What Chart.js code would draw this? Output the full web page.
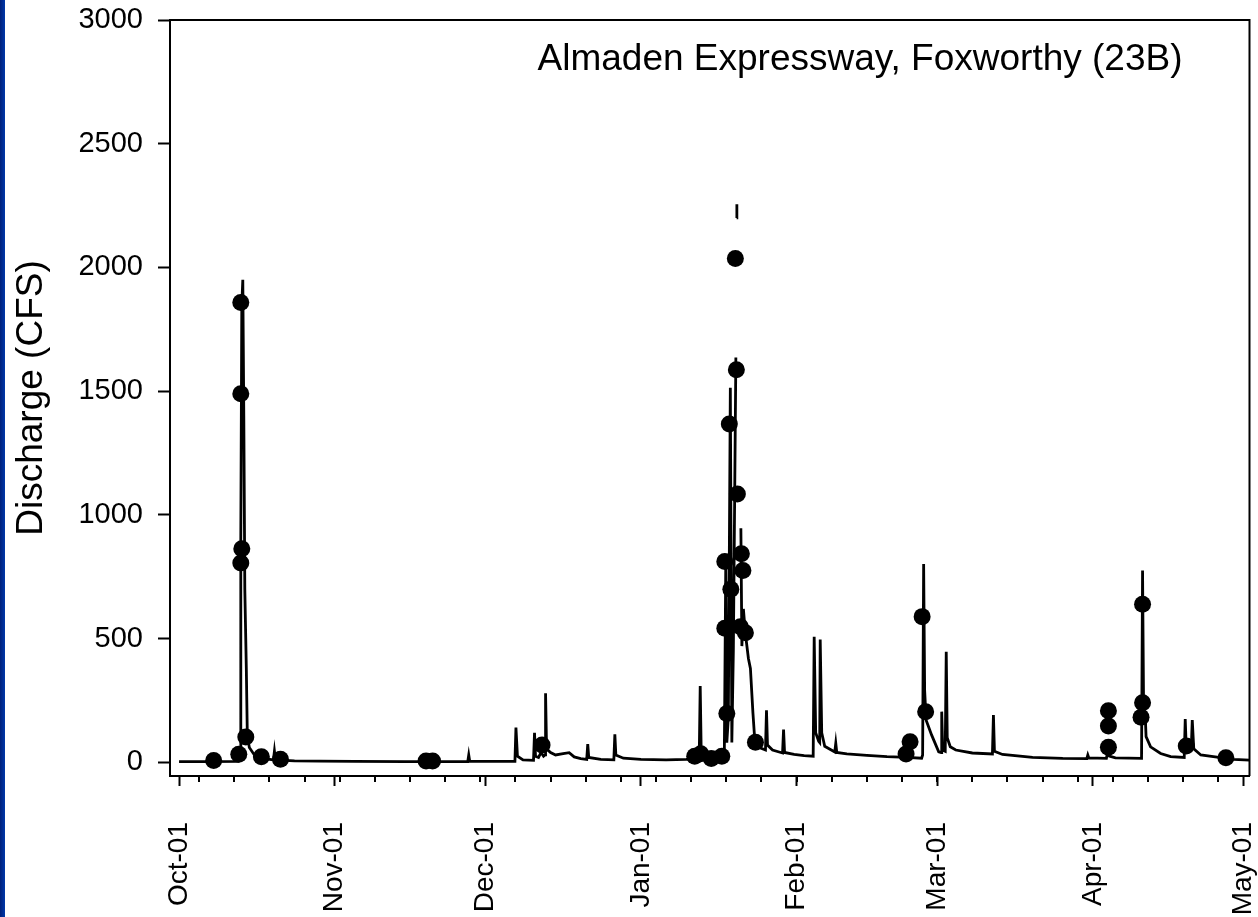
<!DOCTYPE html>
<html>
<head>
<meta charset="utf-8">
<script src="https://cdn.jsdelivr.net/npm/chart.js@4"></script>
<style>
	html, body { margin: 0; padding: 0; background: #fff; }
	#wrap { position: relative; width: 1258px; height: 917px; overflow: hidden; }
	#flowChart { position: absolute; left: 0; top: 0; }
	#edge {
		position: absolute; left: 0; top: 0; width: 5px; height: 917px;
		background: linear-gradient(to right, #00207a, #0038aa);
	}
</style>
</head>
<body>
<div id="wrap">
	<canvas id="flowChart" width="1258" height="917"></canvas>
	<div id="edge"></div>
</div>
<script>
// Days are counted from Oct 1 (day 0) to May 1 (day 212)
const siteName = 'Almaden Expressway, Foxworthy (23B)';

const monthDays = [0, 31, 61, 92, 123, 151, 182, 212];
const monthLabels = ['Oct-01', 'Nov-01', 'Dec-01', 'Jan-01', 'Feb-01', 'Mar-01', 'Apr-01', 'May-01'];
const yTicks = [0, 500, 1000, 1500, 2000, 2500, 3000];

// Continuous gauge record (null = missing record, breaks the trace)
const flowDays = [
	0, 5, 11.8, 12.0, 12.2, 12.3, 12.5, 12.7, 12.9, 13.1, 13.4, 13.6, 14.0, 15.0, 17.0, 18.8, 19.0, 19.2,
	23, 28, 35, 45, 57.5, 57.7, 57.9, 66.9, 67.1, 67.4, 68.5, 70.6, 70.8, 71.0, 71.6, 72.1, 72.6, 72.9,
	73.0, 73.2, 74.0, 75.0, 76.5, 77.7, 78.7, 80, 81.2, 81.4, 81.6, 84, 86.6, 86.8, 87.0, 88.5, 92, 97,
	101, 103.6, 103.8, 104.0, 104.6, 106.5, 108.4, 108.6, 108.9, 109.1, 109.4, 109.8, 110.1, 110.4, 110.9,
	111.0, 111.05, 111.1, 111.5,
	111.9, 112.1, 112.4, 112.8, 113.4, 113.8, 114.3, 114.6, 114.9, 115.6, 116.8, 117.0, 117.2, 118.2,
	120.2, 120.4, 120.6, 122.5, 124.5, 126.3, 126.5, 126.8, 127.4, 127.6, 127.7, 128.0, 128.6, 130.6,
	130.8, 131.0, 133, 137, 141, 145, 147.9, 148.1, 148.3, 148.5, 148.8, 149.9, 151.3, 151.8, 151.9,
	152.1, 152.6, 152.8, 153.0, 153.6, 154.7, 158, 162.0, 162.2, 162.4, 164, 170, 176, 180.8, 181.0,
	181.2, 184.7, 185.0, 185.3, 186.5, 191.7, 191.9, 192.1, 192.3, 192.4, 192.6, 193.5, 195.5, 197.5,
	200.2, 200.4, 200.6, 201.6, 201.8, 202.1, 203.5, 206, 210, 213.2
];
const flowCfs = [
	3, 3, 4, 20, 60, 900, 1850, 1950, 1400, 700, 380, 110, 60, 30, 15, 10, 45, 10,
	6, 5, 4, 3, 3, 30, 4, 4, 141, 25, 10, 8, 120, 25, 20, 40, 25, 30,
	279, 55, 40, 30, 35, 39, 22, 15, 12, 74, 20, 12, 10, 113, 30, 17, 12, 10,
	12, 15, 309, 40, 22, 18, 20, 25, 830, 80, 180, 1514, 80, 450, 1636,
	null, 2200, 2255, null,
	946, 470, 620, 520, 420, 380, 200, 110, 80, 60, 50, 211, 70, 50,
	38, 133, 40, 32, 27, 25, 508, 120, 85, 80, 497, 120, 65, 42,
	77, 40, 34, 28, 23, 20, 17, 30, 802, 290, 170, 110, 43, 40, 205,
	50, 45, 447, 100, 63, 50, 38, 34, 191, 45, 32, 20, 16, 15, 30,
	18, 16, 50, 25, 18, 16, 775, 240, 180, 205, 104, 63, 36, 23,
	20, 175, 60, 55, 171, 55, 30, 23, 12, 9
];

// Grab samples
const sampleDays = [
	6.9, 11.9, 12.3, 12.3, 12.5, 12.3, 13.3, 16.4, 20.2, 49.2, 50.5, 72.3,
	102.7, 103.9, 106.0, 108.1, 109.1, 108.7, 108.7, 109.9, 109.6, 110.8, 111.0, 111.2,
	112.0, 112.3, 111.8, 112.8, 114.8, 144.8, 145.6, 148.0, 148.7,
	185.1, 185.1, 185.1, 191.9, 191.9, 191.6, 200.6, 208.5
];
const sampleCfs = [
	8, 33, 1858, 1490, 863, 806, 103, 23, 13, 6, 6, 70,
	25, 35, 16, 25, 198, 542, 812, 700, 1367, 2036, 1587, 1085,
	843, 775, 548, 524, 81, 34, 83, 589, 205,
	209, 147, 61, 639, 241, 182, 66, 19
];

const FONT = '"Liberation Sans", Arial, sans-serif';

// Closed box, weekly minor ticks and the site label
const framePlugin = {
	id: 'frame',
	afterDraw(chart) {
		const { ctx, chartArea: a } = chart;
		const xs = chart.scales.x;
		ctx.save();
		ctx.strokeStyle = '#000';
		ctx.lineWidth = 2;
		ctx.beginPath();
		ctx.moveTo(a.left, a.top);
		ctx.lineTo(a.right, a.top);
		ctx.lineTo(a.right, a.bottom);
		ctx.stroke();

		ctx.beginPath();
		for (let d = 4; d <= 212; d += 7) {
			const px = Math.round(xs.getPixelForValue(d));
			ctx.moveTo(px, a.bottom);
			ctx.lineTo(px, a.bottom + 6);
		}
		ctx.stroke();

		ctx.font = '37px ' + FONT;
		ctx.fillStyle = '#000';
		ctx.textAlign = 'right';
		ctx.textBaseline = 'alphabetic';
		ctx.fillText(siteName, a.right - 67, a.top + 50);
		ctx.restore();
	}
};

// keep the plot box fixed: no extra room for overhanging labels
function fixX(s) {
	s.height = 141;
	s.paddingLeft = 0;
	s.paddingRight = 0;
}
function fixY(s) {
	s.width = 170;
	s.paddingTop = 0;
	s.paddingBottom = 0;
}

const ctx = document.getElementById('flowChart').getContext('2d');

new Chart(ctx, {
	data: {
		datasets: [
			{
				type: 'scatter',
				data: sampleDays.map((d, i) => ({ x: d, y: sampleCfs[i] })),
				pointRadius: 8.5,
				pointHoverRadius: 8.5,
				backgroundColor: '#000',
				borderWidth: 0,
				order: 0
			},
			{
				type: 'line',
				data: flowDays.map((d, i) => ({ x: d, y: flowCfs[i] })),
				borderColor: '#000',
				borderWidth: 2.8,
				pointRadius: 0,
				tension: 0,
				spanGaps: false,
				order: 1
			}
		]
	},
	options: {
		responsive: false,
		animation: false,
		layout: { padding: { left: 0, top: 20, right: 4, bottom: 0 } },
		plugins: {
			legend: { display: false },
			tooltip: { enabled: false }
		},
		scales: {
			x: {
				type: 'linear',
				min: -1.8,
				max: 213.2,
				afterBuildTicks: (s) => { s.ticks = monthDays.map((v) => ({ value: v })); },
				afterFit: fixX,
				ticks: {
					autoSkip: false,
					minRotation: 90,
					maxRotation: 90,
					padding: 36,
					color: '#000',
					font: { family: FONT, size: 28 },
					callback: (v) => monthLabels[monthDays.indexOf(v)]
				},
				grid: { drawOnChartArea: false, tickLength: 10, tickWidth: 2, tickColor: '#000' },
				border: { color: '#000', width: 2 }
			},
			y: {
				type: 'linear',
				min: -55,
				max: 3000,
				afterBuildTicks: (s) => { s.ticks = yTicks.map((v) => ({ value: v })); },
				afterFit: fixY,
				ticks: {
					padding: 15,
					color: '#000',
					font: { family: FONT, size: 29 },
					callback: (v) => String(v)
				},
				grid: { drawOnChartArea: false, tickLength: 12, tickWidth: 2, tickColor: '#000' },
				border: { color: '#000', width: 2 },
				title: {
					display: true,
					text: 'Discharge (CFS)',
					color: '#000',
					font: { family: FONT, size: 37 },
					padding: { top: 10, bottom: 0 }
				}
			}
		}
	},
	plugins: [framePlugin]
});
</script>
</body>
</html>
